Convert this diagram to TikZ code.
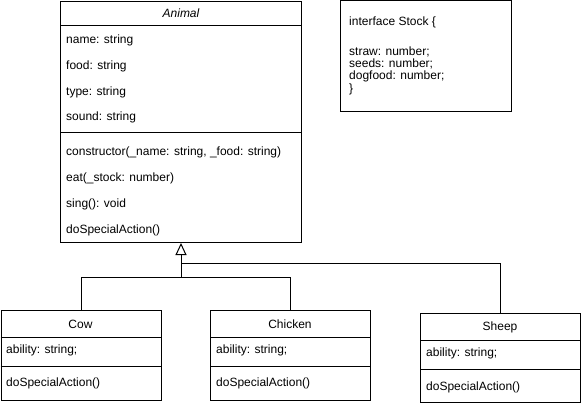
\documentclass[tikz,border=0pt]{standalone}
\usepackage{fontspec}
\setmainfont{Liberation Sans}
\usetikzlibrary{arrows.meta}
\begin{document}
\begin{tikzpicture}[x=1pt,y=-1pt,
  box/.style={draw, line width=1pt, inner sep=0pt, anchor=north west},
  txt/.style={anchor=west, inner sep=0pt, yshift=-0.7pt, font=\fontsize{12}{14}\selectfont},
  ttl/.style={inner sep=0pt, yshift=-0.7pt, font=\fontsize{12}{14}\selectfont},
  sep/.style={line width=1pt},
  conn/.style={line width=1pt}]
\useasboundingbox[fill=white] (0,0) rectangle (581,404);

% Animal
\node[box, minimum width=241pt, minimum height=241pt] (animal) at (60,1) {};
\draw[sep] (60,26) -- (301,26);
\draw[sep] (60,132) -- (301,132);
\node[ttl] (animalT) at (181,13) {\itshape Animal};
\node[txt] (a1) at (66,40) {name: string};
\node[txt] (a2) at (66,66) {food: string};
\node[txt] (a3) at (66,92) {type: string};
\node[txt] (a4) at (66,117) {sound: string};
\node[txt] (a5) at (66,152) {constructor(\_name: string, \_food: string)};
\node[txt] (a6) at (66,178) {eat(\_stock: number)};
\node[txt] (a7) at (66,204) {sing(): void};
\node[txt] (a8) at (66,230) {doSpecialAction()};

% Stock
\node[box, minimum width=171pt, minimum height=110pt] (stock) at (340,0.5) {};
\node[txt] (s1) at (349,22) {interface Stock \{};
\node[txt] (s2) at (349,51) {straw: number;};
\node[txt] (s3) at (349,63.5) {seeds: number;};
\node[txt] (s4) at (349,76) {dogfood: number;};
\node[txt] (s5) at (349,89) {\}};

% Cow
\node[box, minimum width=160pt, minimum height=90pt] (cow) at (0.5,310) {};
\draw[sep] (0.5,337) -- (160.5,337);
\draw[sep] (0.5,366) -- (160.5,366);
\node[ttl] (cowT) at (80.5,324) {Cow};
\node[txt] (c1) at (6,350) {ability: string;};
\node[txt] (c2) at (6,383) {doSpecialAction()};

% Chicken
\node[box, minimum width=160pt, minimum height=90pt] (chicken) at (210,310) {};
\draw[sep] (210,337) -- (370,337);
\draw[sep] (210,366) -- (370,366);
\node[ttl] (chickenT) at (290,324) {Chicken};
\node[txt] (h1) at (216,350) {ability: string;};
\node[txt] (h2) at (216,383) {doSpecialAction()};

% Sheep
\node[box, minimum width=160pt, minimum height=89pt] (sheep) at (420,313) {};
\draw[sep] (420,340) -- (580,340);
\draw[sep] (420,369) -- (580,369);
\node[ttl] (sheepT) at (500,327) {Sheep};
\node[txt] (p1) at (426,353) {ability: string;};
\node[txt] (p2) at (426,387) {doSpecialAction()};

% Connectors
\coordinate (j1) at (181,277);
\draw[conn] (cow.north) |- (j1);
\draw[conn] (chicken.north) |- (j1);
\draw[conn] (sheep.north) |- (181,263);
\draw[conn, -{Triangle[open, width=11pt, length=12pt, line width=1pt]}] (j1) -- (animal.south);
\end{tikzpicture}
\end{document}
